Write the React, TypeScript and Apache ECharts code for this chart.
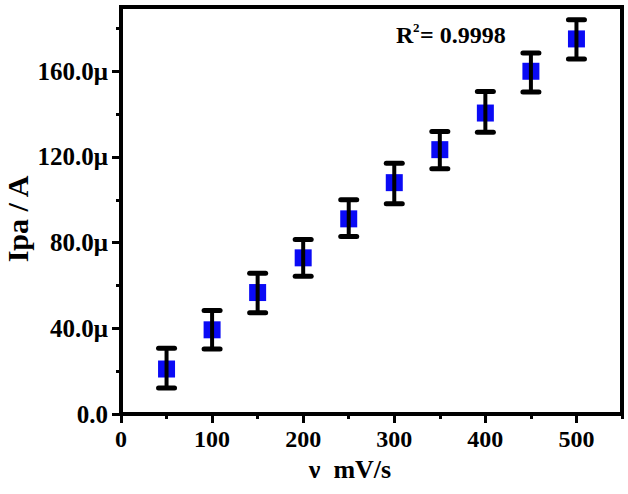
import React, { useEffect, useRef } from "react";
import * as echarts from "echarts";

const scanRates = [50, 100, 150, 200, 250, 300, 350, 400, 450, 500];
const ipaValues = [21.0, 39.3, 56.7, 72.9, 91.1, 108.0, 123.4, 140.5, 160.0, 175.1];
const errLow = [12.1, 30.4, 47.3, 64.3, 82.9, 98.1, 114.5, 131.5, 150.3, 165.7];
const errHigh = [30.7, 48.3, 65.7, 81.5, 100.0, 117.1, 131.9, 150.6, 168.5, 184.1];
const xMajorTicks = [0, 100, 200, 300, 400, 500];
const xMinorTicks = [50, 150, 250, 350, 450, 550];
const yMajorTicks = [0, 40, 80, 120, 160];
const yMinorTicks = [20, 60, 100, 140, 180];

const FONT = "'Liberation Serif', 'Times New Roman', serif";

export default function App() {
  const ref = useRef<HTMLDivElement>(null);
  useEffect(() => {
    if (!ref.current) return;
    const chart = echarts.init(ref.current, null, { renderer: "svg" });
    const labelStyle = { color: "#000", fontFamily: FONT, fontWeight: "bold" as const, fontSize: 24 };
    chart.setOption({
      animation: false,
      grid: { left: 121, right: 6, top: 7, bottom: 80, show: true, borderColor: "#000", borderWidth: 4, backgroundColor: "transparent" },
      xAxis: [
        {
          type: "value", min: 0, max: 550, position: "bottom",
          axisLine: { show: true, onZero: false, lineStyle: { color: "#000", width: 4 } },
          axisTick: { show: true, inside: false, length: 9, lineStyle: { color: "#000", width: 3 }, customValues: xMajorTicks },
          axisLabel: { ...labelStyle, margin: 13, customValues: xMajorTicks },
          splitLine: { show: false },
        },
        {
          type: "value", min: 0, max: 550, position: "bottom",
          axisLine: { show: false, onZero: false },
          axisTick: { show: true, inside: false, length: 5, lineStyle: { color: "#000", width: 3 }, customValues: xMinorTicks },
          axisLabel: { show: false },
          splitLine: { show: false },
        },
      ],
      yAxis: [
        {
          type: "value", min: 0, max: 190, position: "left",
          axisLine: { show: true, onZero: false, lineStyle: { color: "#000", width: 4 } },
          axisTick: { show: true, inside: false, length: 9, lineStyle: { color: "#000", width: 3 }, customValues: yMajorTicks },
          axisLabel: {
            ...labelStyle, fontSize: 25, margin: 13, customValues: yMajorTicks,
            formatter: (v: number) => (v === 0 ? "0.0" : v.toFixed(1) + "\u03bc"),
          },
          splitLine: { show: false },
        },
        {
          type: "value", min: 0, max: 190, position: "left",
          axisLine: { show: false, onZero: false },
          axisTick: { show: true, inside: false, length: 5, lineStyle: { color: "#000", width: 3 }, customValues: yMinorTicks },
          axisLabel: { show: false },
          splitLine: { show: false },
        },
      ],
      graphic: [
        {
          type: "text", x: 17, y: 219, rotation: Math.PI / 2,
          style: { text: "Ipa / A", fontFamily: FONT, fontWeight: "bold", fontSize: 30, fill: "#000", align: "center", verticalAlign: "middle" },
        },
        {
          type: "text", x: 350, y: 469,
          style: { text: "\u03bd  mV/s", fontFamily: FONT, fontWeight: "bold", fontSize: 26, fill: "#000", align: "center", verticalAlign: "middle" },
        },
        {
          type: "text", x: 396, y: 35,
          style: { text: "R", fontFamily: FONT, fontWeight: "bold", fontSize: 24, fill: "#000", align: "left", verticalAlign: "middle" },
        },
        {
          type: "text", x: 413, y: 27,
          style: { text: "2", fontFamily: FONT, fontWeight: "bold", fontSize: 13, fill: "#000", align: "left", verticalAlign: "middle" },
        },
        {
          type: "text", x: 420, y: 35,
          style: { text: "= 0.9998", fontFamily: FONT, fontWeight: "bold", fontSize: 24, fill: "#000", align: "left", verticalAlign: "middle" },
        },
      ],
      series: [
        {
          type: "scatter", xAxisIndex: 0, yAxisIndex: 0,
          symbol: "rect", symbolSize: [17, 17],
          itemStyle: { color: "#0a0af5", opacity: 1 },
          data: scanRates.map((x, i) => [x, ipaValues[i]]),
          z: 2,
        },
        {
          type: "custom", xAxisIndex: 0, yAxisIndex: 0, z: 3,
          encode: { x: 0, y: [1, 2] },
          data: scanRates.map((x, i) => [x, errLow[i], errHigh[i]]),
          renderItem: (params: any, api: any) => {
            const x = api.value(0);
            const top = api.coord([x, api.value(2)]);
            const bot = api.coord([x, api.value(1)]);
            const hw = 8;
            const capStyle = { stroke: "#000", lineWidth: 5, lineCap: "round" };
            return {
              type: "group",
              children: [
                { type: "line", shape: { x1: top[0], y1: top[1], x2: bot[0], y2: bot[1] }, style: { stroke: "#000", lineWidth: 4 } },
                { type: "line", shape: { x1: top[0] - hw, y1: top[1], x2: top[0] + hw, y2: top[1] }, style: capStyle },
                { type: "line", shape: { x1: bot[0] - hw, y1: bot[1], x2: bot[0] + hw, y2: bot[1] }, style: capStyle },
              ],
            };
          },
        },
      ],
    });
    return () => chart.dispose();
  }, []);
  return <div ref={ref} style={{ position: "absolute", left: 0, top: 0, width: 628, height: 494 }} />;
}
